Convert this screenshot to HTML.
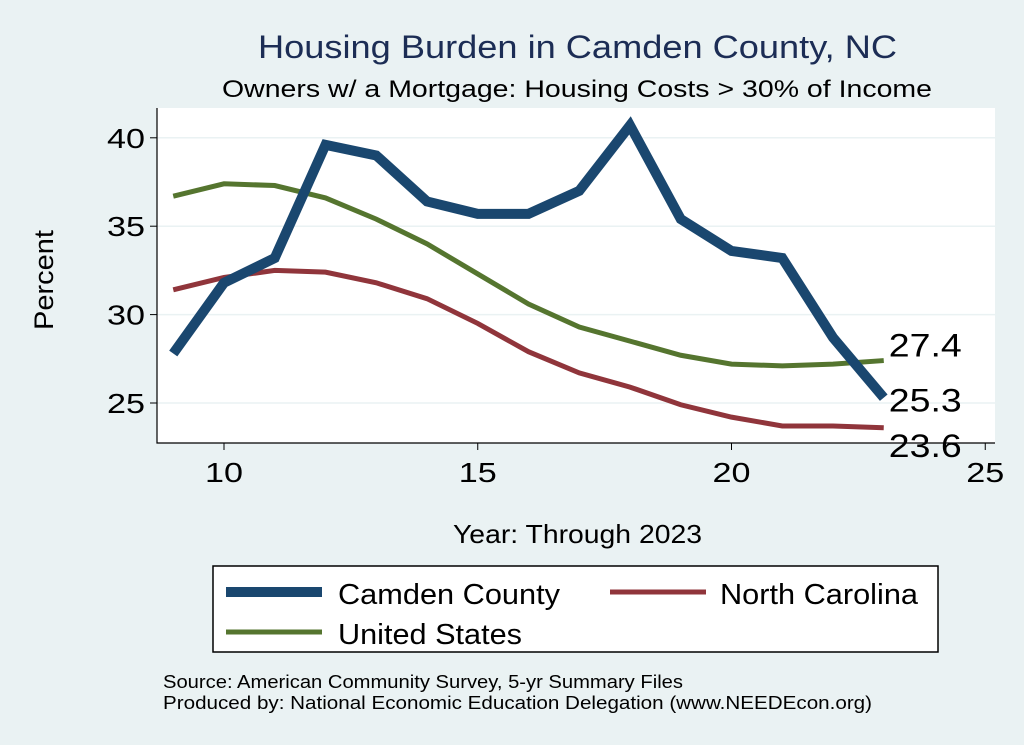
<!DOCTYPE html>
<html><head><meta charset="utf-8"><style>
body{margin:0;background:#eaf2f3;}
svg{display:block;font-family:"Liberation Sans",sans-serif;}
</style></head><body>
<svg id="chart" width="1024" height="745">
<rect width="1024" height="745" fill="#eaf2f3"/>
<text x="258" y="58" font-size="32" fill="#1c2d55" textLength="639" lengthAdjust="spacingAndGlyphs">Housing Burden in Camden County, NC</text>
<text x="222" y="97" font-size="24" fill="#000" textLength="710" lengthAdjust="spacingAndGlyphs">Owners w/ a Mortgage: Housing Costs &gt; 30% of Income</text>
<rect x="157" y="108" width="838" height="335" fill="#fff"/>
<g id="grid"></g>
<g id="axes"></g>
<g id="series"></g>
<text x="53" y="280" font-size="27" text-anchor="middle" textLength="100" lengthAdjust="spacingAndGlyphs" transform="rotate(-90 53 280)">Percent</text>
<text x="453" y="543" font-size="26" textLength="249" lengthAdjust="spacingAndGlyphs">Year: Through 2023</text>
<g>
<rect x="213" y="566" width="725" height="86" fill="#fff" stroke="#000" stroke-width="1.5"/>
<line x1="226" y1="592" x2="322" y2="592" stroke="#1a476f" stroke-width="10"/>
<text x="338" y="604" font-size="29" textLength="222" lengthAdjust="spacingAndGlyphs">Camden County</text>
<line x1="610" y1="592" x2="706" y2="592" stroke="#90353b" stroke-width="5"/>
<text x="720" y="604" font-size="29" textLength="198" lengthAdjust="spacingAndGlyphs">North Carolina</text>
<line x1="226" y1="632" x2="322" y2="632" stroke="#55752f" stroke-width="5"/>
<text x="338" y="644" font-size="29" textLength="184" lengthAdjust="spacingAndGlyphs">United States</text>
</g>
<text x="163" y="688" font-size="18" textLength="520" lengthAdjust="spacingAndGlyphs">Source: American Community Survey, 5-yr Summary Files</text>
<text x="163" y="709" font-size="18" textLength="709" lengthAdjust="spacingAndGlyphs">Produced by: National Economic Education Delegation (www.NEEDEcon.org)</text>
</svg>
<script>
const years=[9,10,11,12,13,14,15,16,17,18,19,20,21,22,23];
const camden=[27.8,31.8,33.2,39.6,39.0,36.4,35.7,35.7,37.0,40.7,35.4,33.6,33.2,28.7,25.3];
const us=[36.7,37.4,37.3,36.6,35.4,34.0,32.3,30.6,29.3,28.5,27.7,27.2,27.1,27.2,27.4];
const nc=[31.4,32.1,32.5,32.4,31.8,30.9,29.5,27.9,26.7,25.9,24.9,24.2,23.7,23.7,23.6];
const xTicks=[10,15,20,25];
const yTicks=[25,30,35,40];
const endLabels=["27.4","25.3","23.6"];
const NS="http://www.w3.org/2000/svg";
function X(v){return 224+(v-10)*50.75;}
function Y(v){return 403-(v-25)*17.68;}
function mk(tag,attrs,parent){const e=document.createElementNS(NS,tag);for(const k in attrs)e.setAttribute(k,attrs[k]);parent.appendChild(e);return e;}
const grid=document.getElementById('grid'),axes=document.getElementById('axes'),ser=document.getElementById('series');
yTicks.forEach(t=>{
 const g=mk('line',{x1:157,x2:995,y1:Y(t),y2:Y(t),stroke:'#eaf2f3','stroke-width':1.5},grid);
 
 
 const tk=mk('line',{x1:150,x2:157,y1:Y(t),y2:Y(t),stroke:'#000'},axes);
 
 
 const tx=mk('text',{x:145,y:Y(t)+10,'font-size':28,'text-anchor':'end',textLength:38,lengthAdjust:'spacingAndGlyphs'},axes);
 tx.textContent=t;
 
 
});
xTicks.forEach(t=>{
 const tk=mk('line',{x1:X(t),x2:X(t),y1:443,y2:450,stroke:'#000'},axes);
 
 
 const tx=mk('text',{x:X(t)-19,y:482,'font-size':28,textLength:38,lengthAdjust:'spacingAndGlyphs'},axes);
 tx.textContent=t;
 
 
});
const ax=mk('path',{d:'M157 108 V443 H995',fill:'none',stroke:'#000','stroke-width':1.2},axes);


function line(vals,color,w,name){
 const p=mk('polyline',{points:vals.map((v,i)=>X(years[i])+','+Y(v)).join(' '),fill:'none',stroke:color,'stroke-width':w,'stroke-linejoin':'miter'},ser);
 
 
}
line(nc,'#90353b',5,'north-carolina-line');
line(us,'#55752f',5,'united-states-line');
line(camden,'#1a476f',10,'camden-county-line');
const last=years.length-1;
[[us,endLabels[0],-4],[camden,endLabels[1],14],[nc,endLabels[2],29]].forEach((d,i)=>{
 const t=mk('text',{x:X(years[last])+5,y:Y(d[0][last])+d[2],'font-size':32,textLength:73,lengthAdjust:'spacingAndGlyphs'},ser);
 t.textContent=d[1];
 
 
});
</script>
</body></html>
